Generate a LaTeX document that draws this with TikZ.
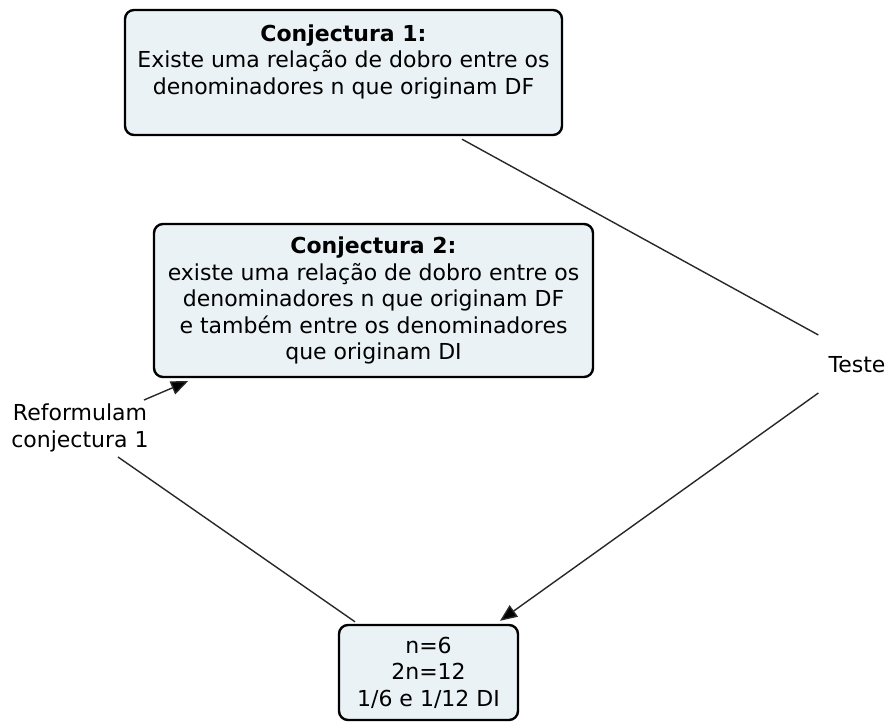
\documentclass[tikz,border=0pt]{standalone}
\usepackage{fontspec}
\setmainfont{DejaVu Sans}
\usetikzlibrary{arrows.meta}
\definecolor{boxfill}{RGB}{234,242,245}
\definecolor{linec}{RGB}{40,40,40}
\tikzset{
  concept/.style={draw=black, line width=2.4pt, fill=boxfill, rounded corners=9pt,
    align=center, inner sep=0pt, font=\fontsize{22}{26.5}\selectfont},
  phrase/.style={align=center, inner sep=0pt, font=\fontsize{22}{26.5}\selectfont},
  conn/.style={draw=linec, line width=1.4pt},
  arr/.style={conn, -{Triangle[length=17pt,width=14pt,fill=black]}}
}
\begin{document}
\begin{tikzpicture}[x=1pt,y=1pt]
\useasboundingbox (0,0) rectangle (889,721);
\node[concept, minimum width=437pt, minimum height=125pt] (b1) at (343.5,648.5)
  {\textbf{Conjectura 1:}\\Existe uma relação de dobro entre os\\denominadores n que originam DF\\~};
\node[concept, minimum width=439pt, minimum height=153pt] (b2) at (373.5,420.5)
  {\textbf{Conjectura 2:}\\existe uma relação de dobro entre os\\denominadores n que originam DF\\e também entre os denominadores\\que originam DI};
\node[concept, minimum width=179pt, minimum height=95pt] (b3) at (428.5,48.5)
  {n=6\\2n=12\\1/6 e 1/12 DI};
\node[phrase] (teste) at (857,356) {Teste};
\node[phrase] (ref) at (80,293) {Reformulam\\conjectura 1};
\draw[conn] ([xshift=118.5pt,yshift=-3pt]b1.south) -- ([xshift=-10pt,yshift=30pt]teste.west);
\draw[arr] ([xshift=-10pt,yshift=-28pt]teste.west) -- ([xshift=71.5pt,yshift=3pt]b3.north);
\draw[conn] ([xshift=-73.5pt,yshift=2pt]b3.north) -- ([xshift=38pt,yshift=-29pt]ref.center);
\draw[arr] ([xshift=64pt,yshift=28pt]ref.center) -- ([xshift=-185.5pt,yshift=-3pt]b2.south);
\end{tikzpicture}
\end{document}
